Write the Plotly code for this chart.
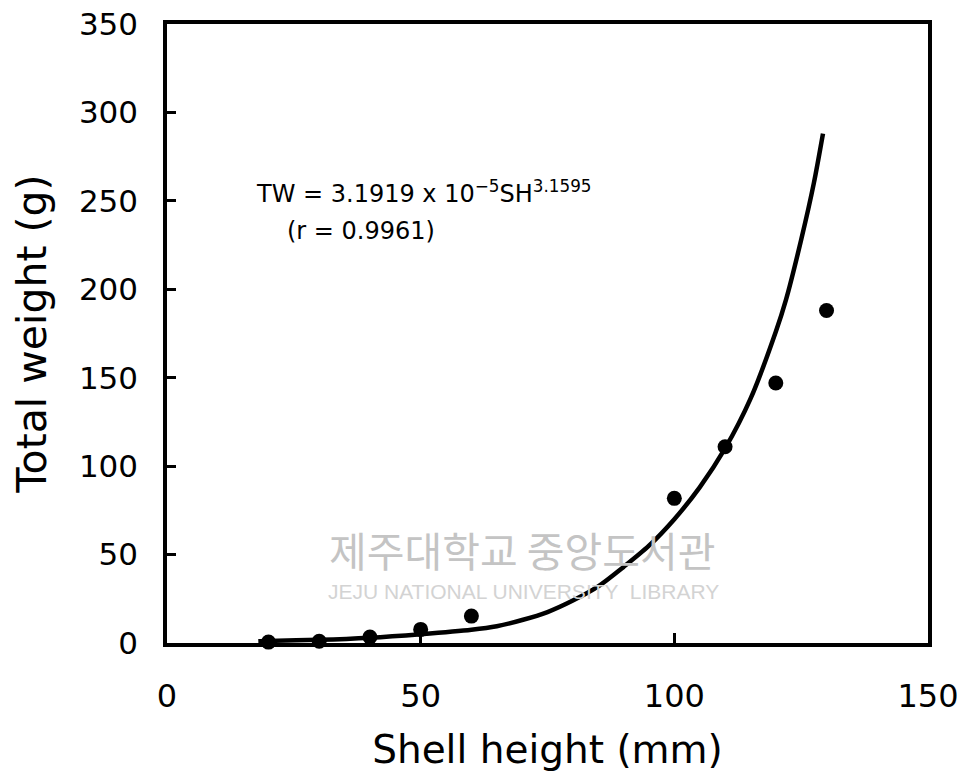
import plotly.graph_objects as go

# Observed data points (shell height mm, total weight g)
sh_obs = [20, 30, 40, 50, 60, 100, 110, 120, 130]
tw_obs = [0.5, 1.0, 3.4, 7.7, 15.2, 81.8, 111, 147, 188]

# Fitted curve as drawn in the figure
sh_fit = [18, 20, 30, 40, 50, 60, 65, 70, 75, 80, 85, 90, 95, 100, 105, 110, 115, 120, 122, 125, 127.5, 129.3]
tw_fit = [1.0, 1.2, 1.8, 3.0, 5.0, 7.5, 9.5, 13, 17.5, 24, 32, 43, 55, 70, 88, 110, 138, 176, 194, 228, 260, 288]

x_ticks = [0, 50, 100, 150]
y_ticks = [0, 50, 100, 150, 200, 250, 300, 350]

FONT = "DejaVu Sans"

fig = go.Figure()
fig.add_trace(go.Scatter(x=sh_fit, y=tw_fit, mode="lines",
                         line=dict(color="black", width=4.5, shape="spline", smoothing=0.8),
                         showlegend=False, hoverinfo="skip"))
fig.add_trace(go.Scatter(x=sh_obs, y=tw_obs, mode="markers",
                         marker=dict(color="black", size=15),
                         showlegend=False, cliponaxis=False))

ann = []
# watermark
ann.append(dict(x=0.466, y=0.10, xref="paper", yref="paper", text="제주대학교 중앙도서관",
                showarrow=False, font=dict(family="Noto Sans CJK KR", size=41, color="#c4c4c4")))
ann.append(dict(x=0.468, y=0.062, xref="paper", yref="paper", text="JEJU NATIONAL UNIVERSITY  LIBRARY",
                showarrow=False, font=dict(family="Liberation Sans", size=21, color="#d3d3d3")))
# equation
ann.append(dict(x=17.2, y=255, xref="x", yref="y", xanchor="left", yanchor="middle",
                text="TW = 3.1919 x 10<sup>\u22125</sup>SH<sup>3.1595</sup>",
                showarrow=False, font=dict(family=FONT, size=24, color="black")))
ann.append(dict(x=23.2, y=233, xref="x", yref="y", xanchor="left", yanchor="middle",
                text="(r = 0.9961)",
                showarrow=False, font=dict(family=FONT, size=24, color="black")))

fig.update_layout(
    width=957, height=772,
    margin=dict(l=159, r=37, t=16, b=137),
    paper_bgcolor="white", plot_bgcolor="white",
    annotations=ann,
    xaxis=dict(range=[0, 150], tickvals=x_ticks, ticks="inside", ticklen=10, tickwidth=2.5,
               tickcolor="black", showline=True, linecolor="black", linewidth=3.5, mirror=True,
               showgrid=False, zeroline=False, automargin=False, ticklabeloverflow="allow",
               tickfont=dict(family=FONT, size=32, color="black"), ticklabelstandoff=22,
               title=dict(text="Shell height (mm)", font=dict(family=FONT, size=39, color="black"), standoff=23)),
    yaxis=dict(range=[0, 350], tickvals=y_ticks, ticks="inside", ticklen=9, tickwidth=2.5,
               tickcolor="black", showline=True, linecolor="black", linewidth=3.5, mirror=True,
               showgrid=False, zeroline=False, automargin=False, ticklabeloverflow="allow",
               tickfont=dict(family=FONT, size=31, color="black"), ticklabelstandoff=19,
               title=dict(text="Total weight (g)", font=dict(family=FONT, size=41, color="black"), standoff=25)),
)

fig.write_html("out.html")
